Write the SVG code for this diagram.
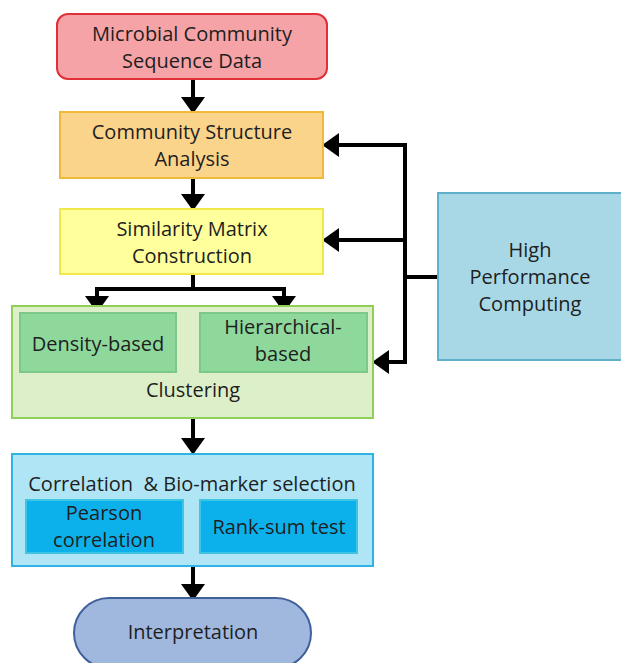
<svg xmlns="http://www.w3.org/2000/svg" width="621" height="663" viewBox="0 0 621 663">
<style>
text{font-family:"Open Sans","Liberation Sans",sans-serif;font-size:20px;fill:#1e1e1e;text-anchor:middle}
.c{stroke:#000;stroke-width:4;fill:none}
</style>
<defs>
<marker id="ah" markerWidth="6" markerHeight="6" refX="0" refY="3" orient="auto" markerUnits="strokeWidth">
<path d="M0,0 L4.2,3 L0,6 Z" fill="#000"/>
</marker>
</defs>
<rect width="621" height="663" fill="#fff"/>
<g id="connectors">
<path class="c" d="M193,79 V97" marker-end="url(#ah)"/>
<path class="c" d="M193,178 V194" marker-end="url(#ah)"/>
<path class="c" d="M193,274 V289 M95,289 H286"/>
<path class="c" d="M97,289 V296" marker-end="url(#ah)"/>
<path class="c" d="M284,289 V296" marker-end="url(#ah)"/>
<path class="c" d="M193,418 V438" marker-end="url(#ah)"/>
<path class="c" d="M193,566 V584" marker-end="url(#ah)"/>
<path class="c" d="M438,277 H405 M405,143 V364"/>
<path class="c" d="M407,145 H339" marker-end="url(#ah)"/>
<path class="c" d="M407,240 H339" marker-end="url(#ah)"/>
<path class="c" d="M407,362 H389" marker-end="url(#ah)"/>
</g>
<g id="n-msd">
<rect x="57" y="14" width="270" height="65" rx="11" fill="#f5a3a6" stroke="#e0303a" stroke-width="2"/>
<text x="192" y="41">Microbial Community</text>
<text x="192" y="68">Sequence Data</text>
</g>
<g id="n-csa">
<rect x="60" y="112" width="263" height="66" fill="#fbd48c" stroke="#f2b838" stroke-width="2"/>
<text x="192" y="139">Community Structure</text>
<text x="192" y="166">Analysis</text>
</g>
<g id="n-smc">
<rect x="60" y="209" width="263" height="65" fill="#ffff9c" stroke="#f0e848" stroke-width="2"/>
<text x="192" y="236">Similarity Matrix</text>
<text x="192" y="263">Construction</text>
</g>
<g id="n-clustering">
<rect x="12" y="306" width="361" height="112" fill="#ddefc8" stroke="#8fd05a" stroke-width="2"/>
<text x="193" y="397">Clustering</text>
</g>
<g id="n-density">
<rect x="20" y="313" width="156" height="59" fill="#8fd89c" stroke="#7cc888" stroke-width="2"/>
<text x="98" y="351">Density-based</text>
</g>
<g id="n-hier">
<rect x="200" y="313" width="167" height="59" fill="#8fd89c" stroke="#7cc888" stroke-width="2"/>
<text x="283" y="334">Hierarchical-</text>
<text x="283" y="361">based</text>
</g>
<g id="n-corr">
<rect x="12" y="454" width="361" height="112" fill="#b0e5f6" stroke="#2fb3e2" stroke-width="2"/>
<text x="192" y="491" xml:space="preserve">Correlation  &amp; Bio-marker selection</text>
</g>
<g id="n-pearson">
<rect x="26" y="500" width="157" height="53" fill="#0cb1ec" stroke="#40c4e6" stroke-width="2"/>
<text x="104" y="520">Pearson</text>
<text x="104" y="547">correlation</text>
</g>
<g id="n-rank">
<rect x="200" y="500" width="157" height="53" fill="#0cb1ec" stroke="#40c4e6" stroke-width="2"/>
<text x="279" y="534">Rank-sum test</text>
</g>
<g id="n-interp">
<rect x="74" y="598" width="237" height="70" rx="35" fill="#a1b8de" stroke="#40609c" stroke-width="2"/>
<text x="193" y="639">Interpretation</text>
</g>
<g id="n-hpc">
<rect x="438" y="193" width="190" height="167" fill="#a8d8e6" stroke="#5fb0c8" stroke-width="2"/>
<text x="530" y="257">High</text>
<text x="530" y="284">Performance</text>
<text x="530" y="311">Computing</text>
</g>
</svg>
